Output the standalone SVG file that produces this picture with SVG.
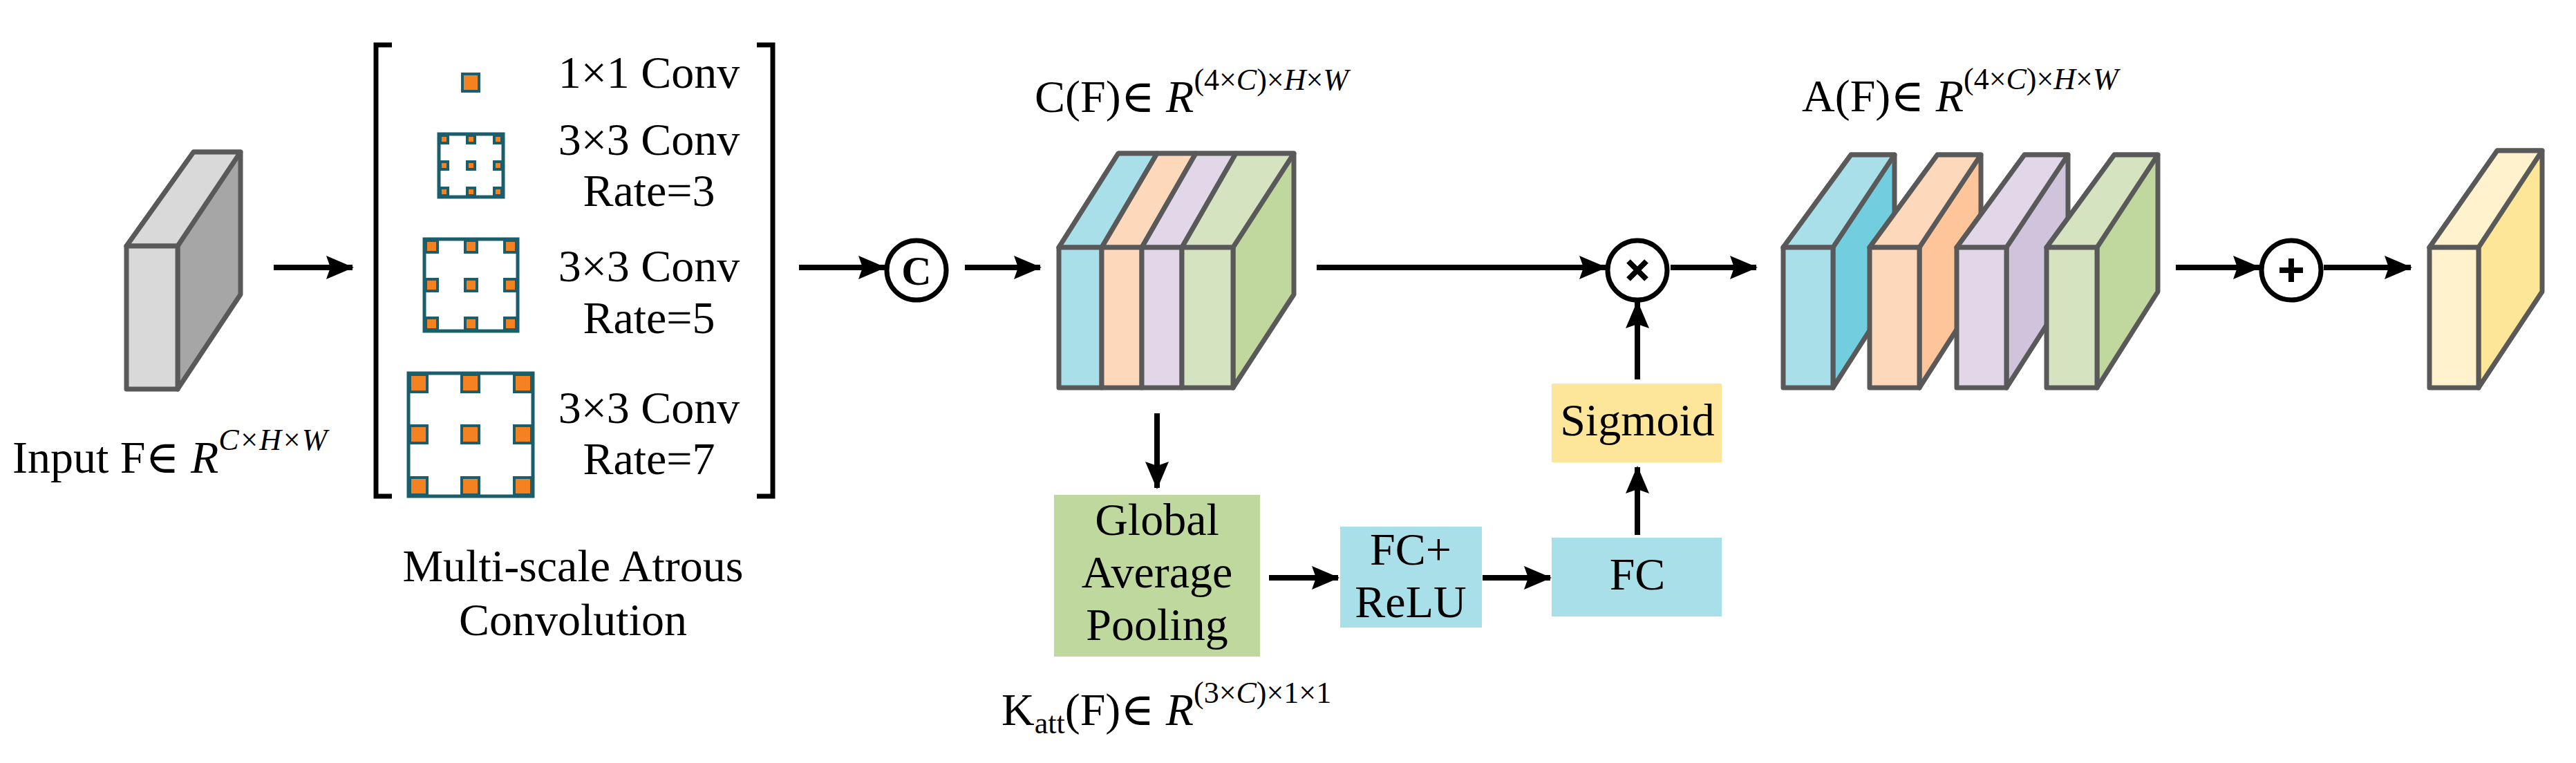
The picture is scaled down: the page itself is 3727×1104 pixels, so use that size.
<svg xmlns="http://www.w3.org/2000/svg" width="3727" height="1104" viewBox="0 0 3727 1104" font-family="'Liberation Serif', 'Times New Roman', 'DejaVu Serif', serif">
<style>
text{font-family:'Liberation Serif','Times New Roman','DejaVu Serif',serif;fill:#000}
.t{font-size:66px}
.s{font-size:44px}
.i{font-style:italic}
.box{stroke:#595959;stroke-width:7;stroke-linejoin:round}
.con{stroke:#000;stroke-width:8;fill:none;marker-end:url(#ah)}
.at{fill:none;stroke:#1a5e6e;stroke-width:5}
.sq{fill:#f58220;stroke:#1a5e6e;stroke-width:4}
.op{fill:#fff;stroke:#000;stroke-width:7}
</style>
<defs>
<marker id="ah" markerUnits="userSpaceOnUse" markerWidth="40" markerHeight="34" refX="38" refY="17" orient="auto"><path d="M0,0 L40,17 L0,34 L6,17 Z" fill="#000"/></marker>
</defs>

<g id="input">
<path class="box" d="M183,356 L280,220 L348,220 L348,426 L257,563 L257,356 Z" fill="#a6a6a6"/>
<path class="box" d="M183,356 L280,220 L348,220 L257,356 Z" fill="#d9d9d9"/>
<rect class="box" x="183" y="356" width="74" height="207" fill="#d9d9d9"/>
<text class="t" x="18" y="684">Input F∈ <tspan class="i">R</tspan><tspan class="s i" dy="-33">C×H×W</tspan></text>
</g>

<g id="atrous">
<path d="M567,65 L544,65 L544,718 L567,718" fill="none" stroke="#000" stroke-width="7"/>
<path d="M1095,65 L1118,65 L1118,718 L1095,718" fill="none" stroke="#000" stroke-width="7"/>
<rect class="sq" x="669" y="107" width="24" height="25"/>
<g>
<rect class="at" x="635" y="194" width="93" height="91"/>
<rect class="sq" x="637" y="196" width="11" height="11"/><rect class="sq" x="676" y="196" width="11" height="11"/><rect class="sq" x="715" y="196" width="11" height="11"/>
<rect class="sq" x="637" y="234" width="11" height="11"/><rect class="sq" x="676" y="234" width="11" height="11"/><rect class="sq" x="715" y="234" width="11" height="11"/>
<rect class="sq" x="637" y="272" width="11" height="11"/><rect class="sq" x="676" y="272" width="11" height="11"/><rect class="sq" x="715" y="272" width="11" height="11"/>
</g>
<g>
<rect class="at" x="614" y="346" width="135" height="133"/>
<rect class="sq" x="616" y="348" width="17" height="17"/><rect class="sq" x="673" y="348" width="17" height="17"/><rect class="sq" x="730" y="348" width="17" height="17"/>
<rect class="sq" x="616" y="404" width="17" height="17"/><rect class="sq" x="673" y="404" width="17" height="17"/><rect class="sq" x="730" y="404" width="17" height="17"/>
<rect class="sq" x="616" y="460" width="17" height="17"/><rect class="sq" x="673" y="460" width="17" height="17"/><rect class="sq" x="730" y="460" width="17" height="17"/>
</g>
<g>
<rect class="at" x="591" y="540" width="180" height="178"/>
<rect class="sq" x="593" y="542" width="25" height="25"/><rect class="sq" x="668" y="542" width="25" height="25"/><rect class="sq" x="744" y="542" width="25" height="25"/>
<rect class="sq" x="593" y="616" width="25" height="25"/><rect class="sq" x="668" y="616" width="25" height="25"/><rect class="sq" x="744" y="616" width="25" height="25"/>
<rect class="sq" x="593" y="691" width="25" height="25"/><rect class="sq" x="668" y="691" width="25" height="25"/><rect class="sq" x="744" y="691" width="25" height="25"/>
</g>
<g class="t" text-anchor="middle">
<text x="939" y="127">1×1 Conv</text>
<text x="939" y="224">3×3 Conv</text><text x="939" y="298">Rate=3</text>
<text x="939" y="407">3×3 Conv</text><text x="939" y="482">Rate=5</text>
<text x="939" y="612">3×3 Conv</text><text x="939" y="686">Rate=7</text>
<text x="829" y="841">Multi-scale Atrous</text>
<text x="829" y="919">Convolution</text>
</g>
</g>

<g id="concat">
<circle class="op" cx="1326" cy="391" r="43"/>
<text x="1326" y="412" text-anchor="middle" font-size="60" font-weight="bold">C</text>
</g>

<g id="cf">
<path class="box" d="M1532,358 L1618,222 L1872,222 L1872,426 L1784,561 L1784,358 Z" fill="#c0d89e"/>
<path class="box" d="M1532,358 L1618,222 L1674,222 L1594,358 Z" fill="#a8dfe8"/>
<path class="box" d="M1594,358 L1674,222 L1730,222 L1652,358 Z" fill="#fdd8bb"/>
<path class="box" d="M1652,358 L1730,222 L1788,222 L1710,358 Z" fill="#e1d7e8"/>
<path class="box" d="M1710,358 L1788,222 L1872,222 L1784,358 Z" fill="#d5e3c0"/>
<rect class="box" x="1532" y="358" width="62" height="203" fill="#a8dfe8"/>
<rect class="box" x="1594" y="358" width="58" height="203" fill="#fdd8bb"/>
<rect class="box" x="1652" y="358" width="58" height="203" fill="#e1d7e8"/>
<rect class="box" x="1710" y="358" width="74" height="203" fill="#d5e3c0"/>
<text class="t" x="1497" y="162">C(F)∈ <tspan class="i">R</tspan><tspan class="s" dy="-32">(4×<tspan class="i">C</tspan>)×<tspan class="i">H</tspan>×<tspan class="i">W</tspan></tspan></text>
</g>

<g id="gap">
<rect x="1525" y="716" width="298" height="234" fill="#bfd89e"/>
<g class="t" text-anchor="middle"><text x="1674" y="774">Global</text><text x="1674" y="850">Average</text><text x="1674" y="926">Pooling</text></g>
<text class="t" x="1449" y="1049">K<tspan class="s" dy="12">att</tspan><tspan dy="-12">(F)∈ </tspan><tspan class="i">R</tspan><tspan class="s" dy="-32">(3×<tspan class="i">C</tspan>)×1×1</tspan></text>
</g>

<g id="fcrelu">
<rect x="1939" y="762" width="205" height="146" fill="#a8dfe8"/>
<g class="t" text-anchor="middle"><text x="2041" y="817">FC+</text><text x="2041" y="893">ReLU</text></g>
</g>

<g id="fc">
<rect x="2245" y="778" width="246" height="114" fill="#a8dfe8"/>
<text class="t" x="2369" y="853" text-anchor="middle">FC</text>
</g>

<g id="sigmoid">
<rect x="2245" y="555" width="246" height="114" fill="#fde69a"/>
<text class="t" x="2369" y="630" text-anchor="middle">Sigmoid</text>
</g>

<g id="mult">
<circle class="op" cx="2369" cy="391" r="43"/>
<path d="M2356,378 L2382,404 M2382,378 L2356,404" stroke="#000" stroke-width="8"/>
</g>

<g id="af">
<path class="box" d="M2580,358 L2678,224 L2741,224 L2741,422 L2652,561 L2652,358 Z" fill="#72cede"/>
<path class="box" d="M2580,358 L2678,224 L2741,224 L2652,358 Z" fill="#a8dfe8"/>
<rect class="box" x="2580" y="358" width="72" height="203" fill="#a8dfe8"/>
<path class="box" d="M2705,358 L2803,224 L2866,224 L2866,422 L2777,561 L2777,358 Z" fill="#fec59a"/>
<path class="box" d="M2705,358 L2803,224 L2866,224 L2777,358 Z" fill="#fdd8bb"/>
<rect class="box" x="2705" y="358" width="72" height="203" fill="#fdd8bb"/>
<path class="box" d="M2831,358 L2929,224 L2992,224 L2992,422 L2903,561 L2903,358 Z" fill="#d0c3dc"/>
<path class="box" d="M2831,358 L2929,224 L2992,224 L2903,358 Z" fill="#e1d7e8"/>
<rect class="box" x="2831" y="358" width="72" height="203" fill="#e1d7e8"/>
<path class="box" d="M2961,358 L3059,224 L3122,224 L3122,422 L3034,561 L3034,358 Z" fill="#c0d89e"/>
<path class="box" d="M2961,358 L3059,224 L3122,224 L3034,358 Z" fill="#d5e3c0"/>
<rect class="box" x="2961" y="358" width="73" height="203" fill="#d5e3c0"/>
<text class="t" x="2607" y="161">A(F)∈ <tspan class="i">R</tspan><tspan class="s" dy="-32">(4×<tspan class="i">C</tspan>)×<tspan class="i">H</tspan>×<tspan class="i">W</tspan></tspan></text>
</g>

<g id="add">
<circle class="op" cx="3315" cy="391" r="43"/>
<path d="M3298,391 L3332,391 M3315,374 L3315,408" stroke="#000" stroke-width="8"/>
</g>

<g id="output">
<path class="box" d="M3515,358 L3613,218 L3678,218 L3678,422 L3586,561 L3586,358 Z" fill="#fee699"/>
<path class="box" d="M3515,358 L3613,218 L3678,218 L3586,358 Z" fill="#fff2cc"/>
<rect class="box" x="3515" y="358" width="71" height="203" fill="#fff2cc"/>
</g>

<g id="connectors">
<path class="con" d="M396,387 L510,387"/>
<path class="con" d="M1156,387 L1280,387"/>
<path class="con" d="M1396,387 L1505,387"/>
<path class="con" d="M1905,387 L2323,387"/>
<path class="con" d="M1674,598 L1674,706"/>
<path class="con" d="M1836,836 L1936,836"/>
<path class="con" d="M2145,836 L2243,836"/>
<path class="con" d="M2369,774 L2369,676"/>
<path class="con" d="M2369,549 L2369,437"/>
<path class="con" d="M2417,387 L2541,387"/>
<path class="con" d="M3148,387 L3269,387"/>
<path class="con" d="M3362,387 L3488,387"/>
</g>
</svg>
